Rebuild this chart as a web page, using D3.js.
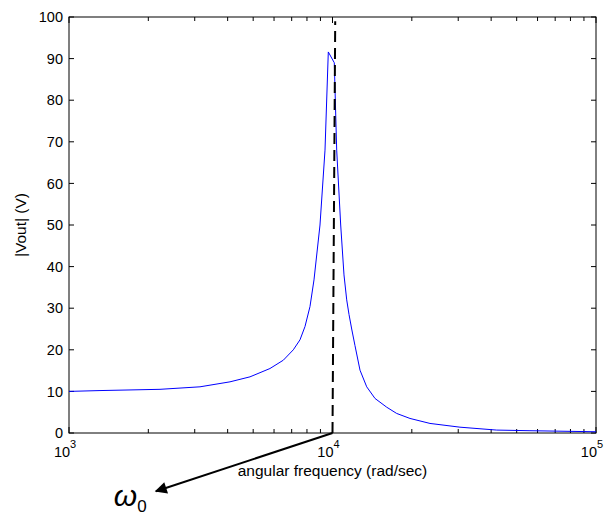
<!DOCTYPE html>
<html>
<head>
<meta charset="utf-8">
<script src="https://cdn.jsdelivr.net/npm/d3@7"></script>
<style>
  body { margin: 0; background: #fff; }
  text { font-family: "Liberation Sans", Arial, sans-serif; }
</style>
</head>
<body>
<div id="chart"></div>
<script>
// (rad/sec, volts)
const omega = [1000, 1311, 2215, 3141, 4083, 4863, 5790, 6507, 7100, 7527, 7864, 8215, 8507, 8965, 9366, 9640,
               10158, 10373, 10742, 11056, 11322, 11551, 11826, 12172, 12718, 13485, 14500, 16062, 17522, 19683,
               23443, 30466, 41994, 56171, 100000];
const vout  = [10.0, 10.2, 10.5, 11.1, 12.3, 13.5, 15.5, 17.5, 20.0, 22.4, 25.6, 30.4, 36.8, 50.0, 68.0, 91.6,
               89.0, 68.0, 50.0, 38.0, 32.0, 28.5, 25.0, 21.0, 15.1, 11.1, 8.3, 6.2, 4.7, 3.5,
               2.3, 1.4, 0.7, 0.55, 0.3];

const markerOmega = [10000, 10240];   // dashed resonance marker
const markerV     = [0, 99];
const arrowOmega  = [10000, 2137];    // arrow from axis down to the w0 label
const arrowV      = [0, -14];
const labelOmega  = 1480;
const labelV      = -17.6;

const yTicks = d3.range(0, 101, 10);
const xMajor = [1e3, 1e4, 1e5];
const xExp   = ["3", "4", "5"];
const xMinor = [2,3,4,5,6,7,8,9].flatMap(m => [m * 1e3, m * 1e4]);

const outerWidth = 606, outerHeight = 517;
const margin = {top: 17, left: 69, right: 10, bottom: 84};
const width = outerWidth - margin.left - margin.right;
const height = outerHeight - margin.top - margin.bottom;

const svg = d3.select("#chart").append("svg")
    .attr("width", outerWidth)
    .attr("height", outerHeight);

const g = svg.append("g")
    .attr("transform", `translate(${margin.left},${margin.top})`);

const x = d3.scaleLog().domain([1e3, 1e5]).range([0, width]);
const y = d3.scaleLinear().domain([0, 100]).range([height, 0]);

// frame
g.append("rect")
    .attr("width", width).attr("height", height)
    .attr("fill", "none").attr("stroke", "#000").attr("stroke-width", 1);

// ticks pointing inwards on all four sides
const tickLen = 5;
const ticks = g.append("g").attr("stroke", "#000").attr("stroke-width", 1);
yTicks.forEach(function(t){
    ticks.append("line").attr("x1", 0).attr("x2", tickLen).attr("y1", y(t)).attr("y2", y(t));
    ticks.append("line").attr("x1", width).attr("x2", width - tickLen).attr("y1", y(t)).attr("y2", y(t));
});
xMajor.concat(xMinor).forEach(function(t){
    let len = xMajor.includes(t) ? tickLen + 1 : tickLen - 1;
    ticks.append("line").attr("x1", x(t)).attr("x2", x(t)).attr("y1", height).attr("y2", height - len);
    ticks.append("line").attr("x1", x(t)).attr("x2", x(t)).attr("y1", 0).attr("y2", len);
});

// tick labels
g.append("g").selectAll("text").data(yTicks).join("text")
    .attr("x", -6).attr("y", d => y(d)).attr("dy", "0.36em")
    .attr("text-anchor", "end").attr("font-size", 14.5).attr("fill", "#000")
    .text(d => d);

const xl = g.append("g").selectAll("text").data(xMajor).join("text")
    .attr("x", d => x(d) - 4).attr("y", height + 24)
    .attr("text-anchor", "middle").attr("font-size", 14.5).attr("fill", "#000");
xl.append("tspan").text("10");
xl.append("tspan").attr("dy", -9).attr("font-size", 11).text((d, i) => xExp[i]);

// axis titles
g.append("text")
    .attr("x", x(1e4)).attr("y", height + 43)
    .attr("text-anchor", "middle").attr("font-size", 15.5)
    .text("angular frequency (rad/sec)");

g.append("text")
    .attr("transform", `translate(${-43},${height / 2}) rotate(-90)`)
    .attr("text-anchor", "middle").attr("font-size", 15.5)
    .text("|Vout| (V)");

// response curve
const pts = omega.map((w, i) => [w, vout[i]]);
g.append("path")
    .datum(pts)
    .attr("fill", "none").attr("stroke", "#0000ff").attr("stroke-width", 1)
    .attr("d", d3.line().x(d => x(d[0])).y(d => y(d[1])));

// dashed marker at w0
g.append("path")
    .datum(markerOmega.map((w, i) => [w, markerV[i]]))
    .attr("fill", "none").attr("stroke", "#000").attr("stroke-width", 2)
    .attr("stroke-dasharray", "11,6")
    .attr("d", d3.line().x(d => x(d[0])).y(d => y(d[1])));

// arrow
svg.append("defs").append("marker")
    .attr("id", "head").attr("viewBox", "0 0 10 10")
    .attr("refX", 9).attr("refY", 5)
    .attr("markerWidth", 8).attr("markerHeight", 6)
    .attr("markerUnits", "strokeWidth")
    .attr("orient", "auto")
  .append("path").attr("d", "M0,0 L10,5 L0,10 z").attr("fill", "#000");

g.append("line")
    .attr("x1", x(arrowOmega[0])).attr("y1", y(arrowV[0]))
    .attr("x2", x(arrowOmega[1])).attr("y2", y(arrowV[1]))
    .attr("stroke", "#000").attr("stroke-width", 2)
    .attr("marker-end", "url(#head)");

const lab = g.append("text")
    .attr("x", x(labelOmega)).attr("y", y(labelV))
    .attr("font-family", "'Liberation Serif', 'Times New Roman', serif")
    .attr("fill", "#000");
lab.append("tspan").attr("font-size", 30).attr("font-style", "italic").text("\u03C9");
lab.append("tspan").attr("font-size", 17).attr("dy", 6).text("0");
</script>
</body>
</html>
